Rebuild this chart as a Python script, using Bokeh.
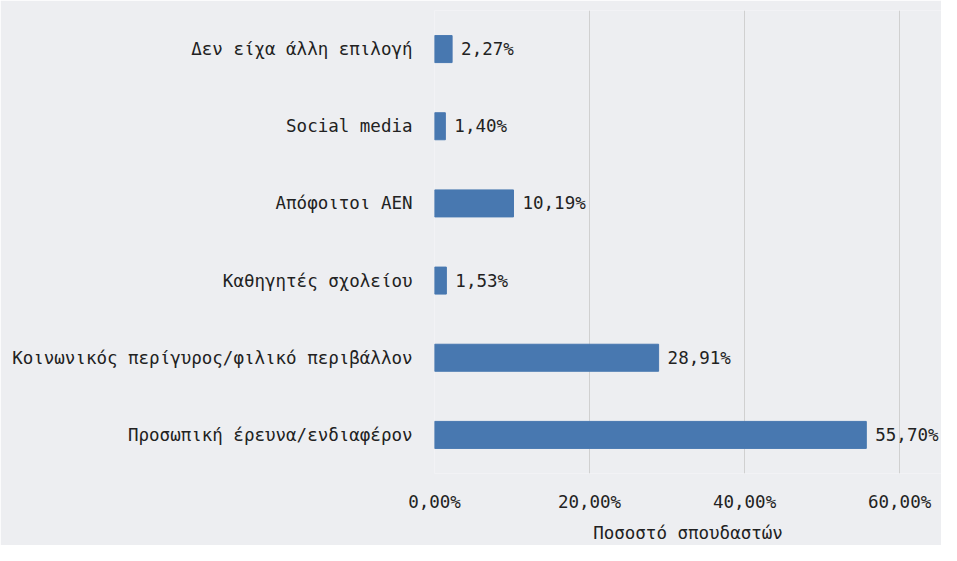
from bokeh.plotting import figure
from bokeh.models import ColumnDataSource, FixedTicker, FactorRange, Range1d
from bokeh.core.properties import value
from bokeh.embed import file_html
from bokeh.resources import INLINE

categories = [
    "Προσωπική έρευνα/ενδιαφέρον",
    "Κοινωνικός περίγυρος/φιλικό περιβάλλον",
    "Καθηγητές σχολείου",
    "Απόφοιτοι ΑΕΝ",
    "Social media",
    "Δεν είχα άλλη επιλογή",
]
values = [55.70, 28.91, 1.53, 10.19, 1.40, 2.27]
value_labels = ["55,70%", "28,91%", "1,53%", "10,19%", "1,40%", "2,27%"]
x_ticks = [0, 20, 40, 60]
x_tick_labels = ["0,00%", "20,00%", "40,00%", "60,00%"]
x_title = "Ποσοστό σπουδαστών"

FONT = "DejaVu Sans Mono"
FS = "17.5px"
BG = "#edeef1"

src = ColumnDataSource(dict(cat=categories, val=values, lab=value_labels))

p = figure(
    width=941, height=545,
    y_range=FactorRange(factors=categories, range_padding=0),
    x_range=Range1d(0, 65.4),
    output_backend="svg", toolbar_location=None,
    min_border_left=434, min_border_right=0, min_border_top=10, min_border_bottom=50,
)
p.background_fill_color = BG
p.border_fill_color = BG
p.outline_line_color = None

p.hbar(y="cat", right="val", left=0, height=0.35, source=src,
       fill_color="#4878b0", line_color="#4878b0")
p.text(x="val", y="cat", text="lab", source=src, x_offset=9,
       text_align="left", text_baseline="middle",
       text_font=value(FONT), text_font_size=FS, text_color="#222222")

p.xaxis.ticker = FixedTicker(ticks=x_ticks)
p.xaxis.major_label_overrides = {t: l for t, l in zip(x_ticks, x_tick_labels)}
p.xaxis.axis_label = x_title
for ax in (p.xaxis, p.yaxis):
    ax.axis_line_color = None
    ax.major_tick_line_color = None
    ax.minor_tick_line_color = None
    ax.major_label_text_font = FONT
    ax.major_label_text_font_size = FS
    ax.major_label_text_color = "#222222"
p.xaxis.axis_label_text_font = FONT
p.xaxis.axis_label_text_font_size = FS
p.xaxis.axis_label_text_font_style = "normal"
p.xaxis.axis_label_text_color = "#222222"
p.xaxis.major_label_standoff = 12
p.xaxis.axis_label_standoff = 8
p.yaxis.major_label_standoff = 16

p.xgrid.grid_line_color = "#d0d0d0"
p.xgrid.grid_line_width = 1
p.ygrid.grid_line_color = None

open("out.html", "w").write(file_html(p, INLINE))
